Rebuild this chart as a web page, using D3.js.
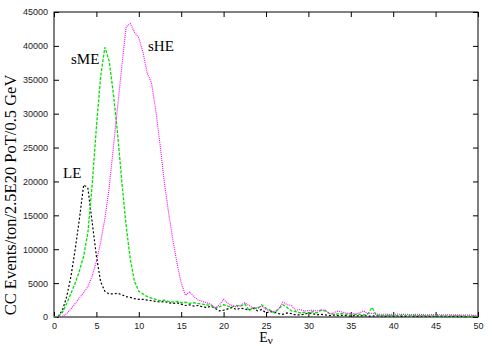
<!DOCTYPE html>
<html>
<head>
<meta charset="utf-8">
<script src="https://cdn.jsdelivr.net/npm/d3@7"></script>
<style>
  body { margin: 0; background: #fff; }
  svg { display: block; }
</style>
</head>
<body>
<div id="main"></div>
<script>
// energy bins, 0.5 GeV steps
var energies = [0,0.5,1,1.5,2,2.5,3,3.5,4,4.5,5,5.5,6,6.5,7,7.5,8,8.5,9,9.5,
  10,10.5,11,11.5,12,12.5,13,13.5,14,14.5,15,15.5,16,16.5,17,17.5,18,18.5,19,19.5,
  20,20.5,21,21.5,22,22.5,23,23.5,24,24.5,25,25.5,26,26.5,27,27.5,28,28.5,29,29.5,
  30,30.5,31,31.5,32,32.5,33,33.5,34,34.5,35,35.5,36,36.5,37,37.5,38,38.5,39,39.5,
  40,40.5,41,41.5,42,42.5,43,43.5,44,44.5,45,45.5,46,46.5,47,47.5,48,48.5,49,49.5,50];

var leValues = [0,100,1000,3000,6000,10000,14500,19500,19000,14000,9000,5200,3800,3400,3400,3500,3300,3000,2900,2700,
  2600,2600,2500,2400,2300,2200,2300,2100,2000,2100,1900,1700,1800,1600,1700,1500,1400,1600,1300,900,
  1000,1200,1400,1100,1300,1200,1000,1300,900,1100,600,800,700,500,400,600,500,300,300,400,
  600,500,300,400,300,200,300,200,250,200,150,200,150,200,150,100,200,150,100,150,
  100,150,100,100,150,100,100,120,100,80,100,120,80,100,80,100,80,60,80,60,50];

var smeValues = [0,50,700,2000,3500,5000,6800,9000,12500,19500,28000,35500,39800,37800,33000,27000,20000,13500,8500,5200,
  3800,3400,3000,2800,2600,2400,2500,2300,2200,2300,2100,2200,2000,2100,2000,1900,1800,1700,1300,1500,
  1800,1600,1500,1700,1600,1900,1000,1400,1200,1800,1300,1000,600,1200,1800,1400,900,800,600,700,
  500,800,600,1000,900,500,400,450,500,400,450,350,400,300,450,1400,300,250,200,250,
  220,200,250,200,180,220,200,180,200,160,180,200,150,180,160,150,170,150,140,150,130];

var sheValues = [0,0,100,500,1200,2000,2800,3600,4500,6000,8200,11000,14500,19000,25000,31000,37000,42800,43300,42000,
  41200,39000,36000,34500,30500,25500,20000,15500,11500,8000,5000,3200,3700,3000,2500,2300,2100,1900,1300,1800,
  2600,2000,1700,1500,1700,2100,1700,1300,1400,1600,1100,900,800,1200,2200,1800,1700,1000,1100,900,
  950,1000,900,1050,1000,500,600,900,700,550,500,450,600,900,500,550,450,400,400,380,
  400,420,380,400,350,380,400,350,330,350,380,330,320,340,300,320,300,280,300,260,250];

var yTicks = [0,5000,10000,15000,20000,25000,30000,35000,40000,45000];
var xTicks = [0,5,10,15,20,25,30,35,40,45,50];

var series = [
  {name: 'LE', values: leValues, color: '#000000', dash: '2,2', width: 1.2},
  {name: 'sME', values: smeValues, color: '#00e000', dash: '3,1.5', width: 1.3},
  {name: 'sHE', values: sheValues, color: '#ff00ff', dash: '1,1', width: 1.1}
];

var labels = [
  {text: 'LE', x: 63, y: 178},
  {text: 'sME', x: 71, y: 64},
  {text: 'sHE', x: 148, y: 51}
];

var W = 494, H = 346;
var margins = {top: 12, bottom: 29, left: 54, right: 16};
var width = W - margins.left - margins.right, height = H - margins.top - margins.bottom;

var x = d3.scaleLinear().domain([0, 50]).range([0, width]);
var y = d3.scaleLinear().domain([0, 45000]).range([height, 0]);

var svg = d3.select('#main').append('svg')
  .attr('width', W).attr('height', H);

var chart = svg.append('g')
  .attr('transform', 'translate(' + margins.left + ',' + margins.top + ')');

var tickFont = '9px "Liberation Sans", Arial, sans-serif';

// bottom axis, inward ticks
chart.append('g')
  .attr('transform', 'translate(0,' + height + ')')
  .call(d3.axisBottom(x).tickValues(xTicks).tickFormat(d3.format('d'))
    .tickSizeInner(-5).tickSizeOuter(0).tickPadding(6));
// left axis
chart.append('g')
  .call(d3.axisLeft(y).tickValues(yTicks).tickFormat(d3.format('d'))
    .tickSizeInner(-5).tickSizeOuter(0).tickPadding(6));
// mirrored top and right ticks
chart.append('g')
  .call(d3.axisTop(x).tickValues(xTicks).tickSizeInner(-5).tickSizeOuter(0).tickFormat(''));
chart.append('g')
  .attr('transform', 'translate(' + width + ',0)')
  .call(d3.axisRight(y).tickValues(yTicks).tickSizeInner(-5).tickSizeOuter(0).tickFormat(''));

chart.selectAll('.domain').remove();
chart.selectAll('.tick line').attr('stroke', '#000').attr('stroke-width', 1);
chart.selectAll('.tick text').style('font', tickFont).attr('fill', '#222');

chart.append('rect')
  .attr('x', 0).attr('y', 0).attr('width', width).attr('height', height)
  .attr('fill', 'none').attr('stroke', '#000').attr('stroke-width', 1);

var line = d3.line()
  .x(function(d, i) { return x(energies[i]); })
  .y(function(d) { return y(d); });

series.forEach(function(s) {
  chart.append('path')
    .datum(s.values)
    .attr('fill', 'none')
    .attr('stroke', s.color)
    .attr('stroke-width', s.width)
    .attr('stroke-dasharray', s.dash)
    .attr('d', line);
});

labels.forEach(function(l) {
  svg.append('text')
    .attr('x', l.x).attr('y', l.y)
    .style('font', '15px "Liberation Serif", "Times New Roman", serif')
    .attr('fill', '#000')
    .text(l.text);
});

// axis titles
svg.append('text')
  .attr('transform', 'translate(16,195) rotate(-90)')
  .style('text-anchor', 'middle')
  .style('font', '16.5px "Liberation Serif", "Times New Roman", serif')
  .text('CC Events/ton/2.5E20 PoT/0.5 GeV');

var xt = svg.append('text')
  .attr('x', margins.left + width / 2).attr('y', 342)
  .style('text-anchor', 'middle')
  .style('font', '14px "Liberation Serif", "Times New Roman", serif');
xt.append('tspan').text('E');
xt.append('tspan').attr('dy', 1.5).style('font-size', '11px').text('ν');
</script>
</body>
</html>
